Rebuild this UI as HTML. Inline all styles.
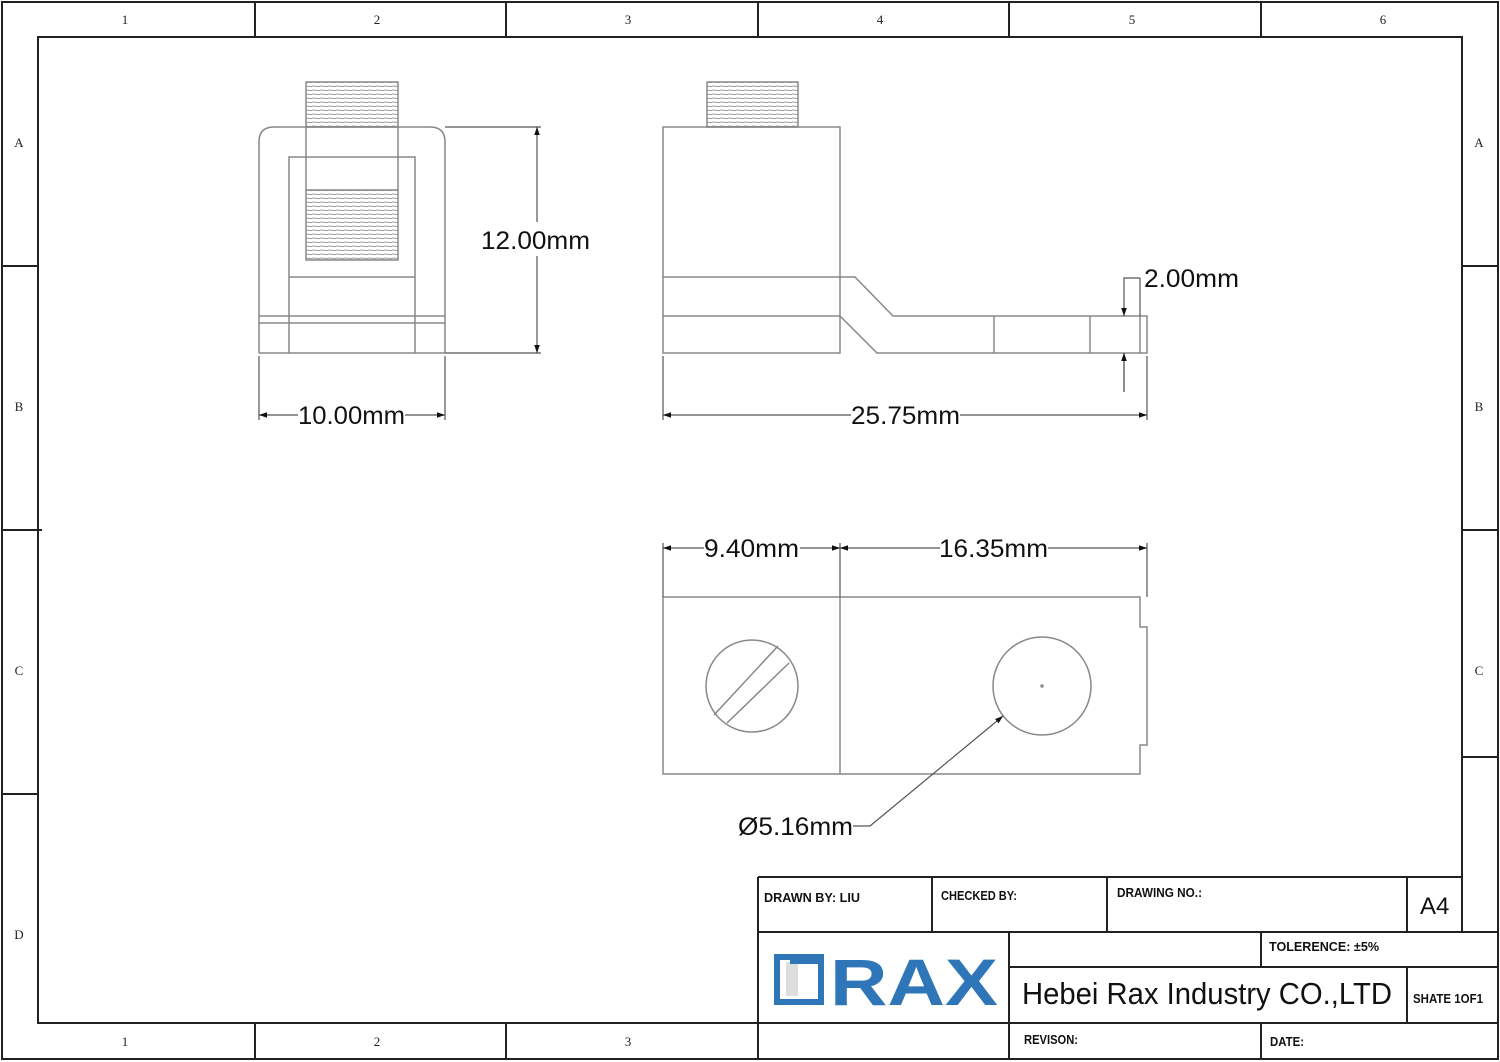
<!DOCTYPE html>
<html><head><meta charset="utf-8"><style>html,body{margin:0;padding:0;background:#fff}svg{display:block}</style></head>
<body>
<svg width="1500" height="1062" viewBox="0 0 1500 1062" xmlns="http://www.w3.org/2000/svg">
<defs>
<pattern id="th" width="8" height="4" patternUnits="userSpaceOnUse"><line x1="0" y1="2" x2="8" y2="2.6" stroke="#999" stroke-width="1"/></pattern>
<marker id="ar" viewBox="0 0 10 10" refX="10" refY="5" markerWidth="18" markerHeight="8" markerUnits="userSpaceOnUse" orient="auto-start-reverse"><path d="M0,1.5 L10,5 L0,8.5z" fill="#111"/></marker>
</defs>
<g fill="none" stroke="#222" stroke-width="2">
<rect x="2" y="2" width="1496" height="1057"/>
<path d="M38 877V37H1462V932M38 37V1023H758"/>
<path d="M255 2V37M506 2V37M758 2V37M1009 2V37M1261 2V37M255 1023V1059M506 1023V1059M758 1023V1059M2 266H38M2 530H42M2 794H38M1462 266H1498M1462 530H1498M1462 757H1498"/>
<!-- title block -->
<path d="M758 877H1462M758 877V1059M932 877V932M1107 877V932M1407 877V932M758 932H1498M1009 932V1059M1261 932V967M1009 967H1498M1407 967V1023M1261 1023V1059M758 1023H1498"/>
</g>
<g font-family="Liberation Serif, serif" font-size="13" fill="#222" text-anchor="middle">
<text x="125" y="24">1</text><text x="377" y="24">2</text><text x="628" y="24">3</text><text x="880" y="24">4</text><text x="1132" y="24">5</text><text x="1383" y="24">6</text>
<text x="125" y="1046">1</text><text x="377" y="1046">2</text><text x="628" y="1046">3</text>
<text x="19" y="147">A</text><text x="19" y="411">B</text><text x="19" y="675">C</text><text x="19" y="939">D</text>
<text x="1479" y="147">A</text><text x="1479" y="411">B</text><text x="1479" y="675">C</text>
</g>
<g font-family="Liberation Sans Narrow, Liberation Sans, sans-serif" fill="#111" font-size="13" font-weight="bold">
<text x="764" y="902" textLength="96" lengthAdjust="spacingAndGlyphs">DRAWN BY:   LIU</text>
<text x="941" y="900" textLength="76" lengthAdjust="spacingAndGlyphs">CHECKED BY:</text>
<text x="1117" y="897" textLength="85" lengthAdjust="spacingAndGlyphs">DRAWING NO.:</text>
<text x="1269" y="951" textLength="110" lengthAdjust="spacingAndGlyphs">TOLERENCE:  ±5%</text>
<text x="1413" y="1003" textLength="70" lengthAdjust="spacingAndGlyphs">SHATE 1OF1</text>
<text x="1024" y="1044" textLength="54" lengthAdjust="spacingAndGlyphs">REVISON:</text>
<text x="1270" y="1046" textLength="34" lengthAdjust="spacingAndGlyphs">DATE:</text>
</g>
<g font-family="Liberation Sans, sans-serif" fill="#111">
<text x="1420" y="914" font-size="24">A4</text>
<text x="1022" y="1004" font-size="31" textLength="370" lengthAdjust="spacingAndGlyphs">Hebei Rax Industry CO.,LTD</text>
</g>
<!-- logo -->
<g fill="#2f76b8">
<path d="M774 954h50v51h-50zM780 960v39h38v-39z" fill-rule="evenodd"/>
<rect x="786" y="962" width="12" height="34" fill="#ddd"/>
<path d="M790 958h28v6h-28z"/>
<text x="830" y="1005" font-family="Liberation Sans, sans-serif" font-weight="bold" font-size="66" textLength="168" lengthAdjust="spacingAndGlyphs">RAX</text>
</g>
<!-- drawing -->
<g fill="none" stroke="#888" stroke-width="1.5">
<rect x="306" y="82" width="92" height="45" fill="url(#th)"/>
<rect x="306" y="190" width="92" height="70" fill="url(#th)"/>
<path d="M259 353V142Q259 127 274 127H430Q445 127 445 142V353"/>
<path d="M289 353V157H415V353M289 277H415M306 127V190M398 127V190M259 316H445M259 323H445M259 353H445"/>
<rect x="707" y="82" width="91" height="45" fill="url(#th)"/>
<path d="M663 127H840V353H663ZM663 277H855L893 316H1147V353H877L840 316H663M994 316V353M1090 316V353M1140 316V353"/>
<path d="M663 597H1140V627H1147V745H1140V774H663ZM840 597V774"/>
<circle cx="752" cy="686" r="46"/>
<path d="M714 715L778 646M727 723L789 663"/>
<circle cx="1042" cy="686" r="49"/>
<circle cx="1042" cy="686" r="1"/>
</g>
<!-- dimensions -->
<g fill="none" stroke="#555" stroke-width="1.2">
<path d="M445 127H541M445 353H541M259 356V420M445 356V420M663 356V420M1147 356V420M663 543V597M840 543V597M1147 543V597M1140 278V316M1124 353V392"/>
<line x1="537" y1="226" x2="537" y2="127" marker-end="url(#ar)"/>
<line x1="537" y1="256" x2="537" y2="353" marker-end="url(#ar)"/>
<line x1="298" y1="415" x2="259" y2="415" marker-end="url(#ar)"/>
<line x1="405" y1="415" x2="445" y2="415" marker-end="url(#ar)"/>
<line x1="851" y1="415" x2="663" y2="415" marker-end="url(#ar)"/>
<line x1="960" y1="415" x2="1147" y2="415" marker-end="url(#ar)"/>
<line x1="704" y1="548" x2="663" y2="548" marker-end="url(#ar)"/>
<line x1="800" y1="548" x2="840" y2="548" marker-end="url(#ar)"/>
<line x1="940" y1="548" x2="840" y2="548" marker-end="url(#ar)"/>
<line x1="1048" y1="548" x2="1147" y2="548" marker-end="url(#ar)"/>
<path d="M1140 278H1124V316" marker-end="url(#ar)"/>
<line x1="1124" y1="392" x2="1124" y2="353" marker-end="url(#ar)"/>
<path d="M853 826H870L1003 716" marker-end="url(#ar)"/>
</g>
<g font-family="Liberation Sans, sans-serif" font-size="25" fill="#111">
<rect x="478" y="222" width="116" height="30" fill="#fff"/>
<text x="481" y="249" textLength="109" lengthAdjust="spacingAndGlyphs">12.00mm</text>
<text x="298" y="424" textLength="107" lengthAdjust="spacingAndGlyphs">10.00mm</text>
<text x="851" y="424" textLength="109" lengthAdjust="spacingAndGlyphs">25.75mm</text>
<text x="1144" y="287" textLength="95" lengthAdjust="spacingAndGlyphs">2.00mm</text>
<text x="704" y="557" textLength="95" lengthAdjust="spacingAndGlyphs">9.40mm</text>
<text x="939" y="557" textLength="109" lengthAdjust="spacingAndGlyphs">16.35mm</text>
<text x="738" y="835" textLength="115" lengthAdjust="spacingAndGlyphs">Ø5.16mm</text>
</g>
</svg>
</body></html>
